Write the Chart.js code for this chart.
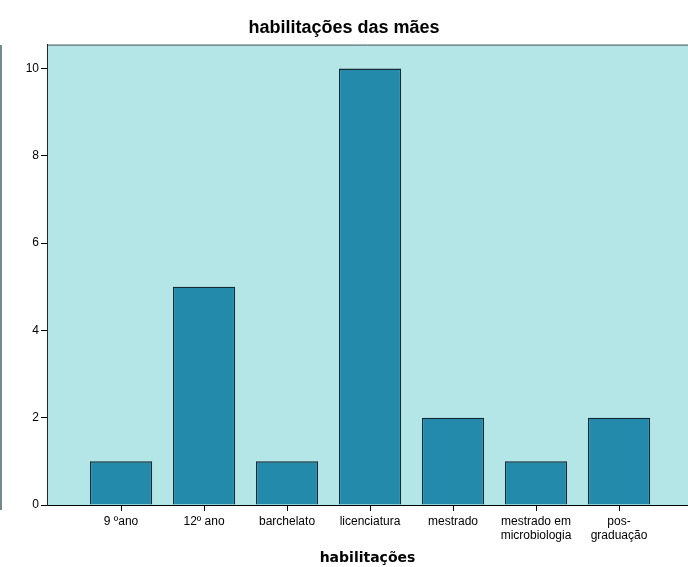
<!DOCTYPE html>
<html>
<head>
<meta charset="utf-8">
<script src="https://cdn.jsdelivr.net/npm/chart.js@4.4.1/dist/chart.umd.min.js"></script>
<style>
  html, body { margin: 0; padding: 0; background: #fff; }
  #wrap { position: relative; width: 688px; height: 567px; overflow: hidden; }
  #edge { position: absolute; left: 0; top: 45px; width: 2px; height: 465px; background: #71898d; }
  canvas { position: absolute; left: 0; top: 0; }
</style>
</head>
<body>
<div id="wrap">
  <canvas id="chart" width="688" height="567"></canvas>
  <div id="edge"></div>
</div>
<script>
const categories = ['9 ºano', '12º ano', 'barchelato', 'licenciatura', 'mestrado', ['mestrado em', 'microbiologia'], ['pos-', 'graduação']];
const counts = [1, 5, 1, 10, 2, 1, 2];
const yTicks = [0, 2, 4, 6, 8, 10];

const plotBg = {
  id: 'plotBg',
  beforeDraw(chart) {
    const { ctx, chartArea: a } = chart;
    ctx.save();
    ctx.fillStyle = '#b4e5e7';
    ctx.fillRect(a.left, a.top, a.right - a.left, a.bottom - a.top);
    ctx.strokeStyle = '#4d5557';
    ctx.lineWidth = 1;
    ctx.beginPath();
    ctx.moveTo(a.left, a.top + 0.5);
    ctx.lineTo(a.right, a.top + 0.5);
    ctx.stroke();
    ctx.restore();
  }
};

new Chart(document.getElementById('chart'), {
  type: 'bar',
  data: {
    datasets: [{
      data: counts.map((v, i) => ({ x: i, y: v })),
      backgroundColor: '#238aab',
      borderColor: '#132a33',
      borderWidth: 1.3,
      barPercentage: 0.75,
      categoryPercentage: 1
    }]
  },
  options: {
    responsive: false,
    animation: false,
    layout: { padding: 0 },
    plugins: {
      legend: { display: false },
      tooltip: { enabled: false },
      title: {
        display: true,
        text: 'habilitações das mães',
        color: '#000',
        font: { family: 'Liberation Sans', size: 18, weight: 'bold' },
        padding: { top: 17, bottom: 6 }
      }
    },
    scales: {
      x: {
        type: 'linear',
        min: -0.892,
        max: 6.831,
        offset: false,
        afterFit: s => { s.height = 62; },
        afterBuildTicks: s => { s.ticks = categories.map((c, i) => ({ value: i })); },
        ticks: {
          callback: v => categories[v],
          color: '#000',
          font: { family: 'Liberation Sans', size: 12 },
          padding: 3,
          maxRotation: 0,
          autoSkip: false
        },
        grid: { drawOnChartArea: false, drawTicks: true, tickLength: 6, color: '#000', offset: false },
        border: { color: '#000', width: 1 },
        title: {
          display: true,
          text: 'habilitações',
          color: '#000',
          font: { family: 'DejaVu Sans', size: 14, weight: 'bold' },
          padding: { top: 0, bottom: 0 }
        }
      },
      y: {
        min: 0,
        max: 10.55,
        afterFit: s => { s.width = 47; },
        afterBuildTicks: s => { s.ticks = yTicks.map(v => ({ value: v })); },
        ticks: {
          color: '#000',
          font: { family: 'Liberation Sans', size: 12 },
          padding: 2
        },
        grid: { drawOnChartArea: false, drawTicks: true, tickLength: 6, color: '#000' },
        border: { color: '#1e2a2c', width: 1 }
      }
    }
  },
  plugins: [plotBg]
});
</script>
</body>
</html>
